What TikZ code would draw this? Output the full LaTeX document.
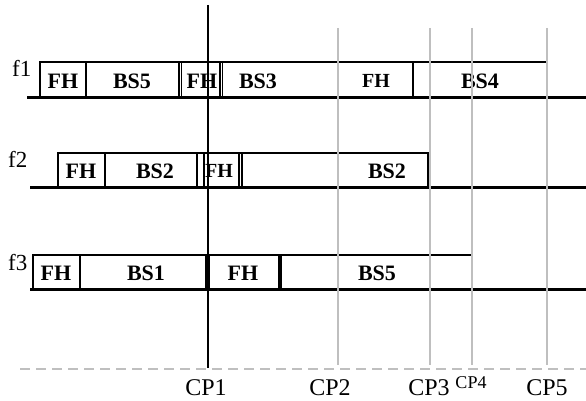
\documentclass[tikz,border=0pt]{standalone}
\usepackage{fontspec}
\setmainfont{Liberation Serif}
\begin{document}
\begin{tikzpicture}[x=1pt,y=-1pt,
  boxline/.style={line width=1.5pt, line cap=rect},
  baseln/.style={line width=3.5pt},
  cpline/.style={line width=2pt, draw=black!25},
  cpmain/.style={line width=1.5pt, draw=black},
  dashln/.style={line width=2pt, draw=black!25, dash pattern=on 10pt off 6pt},
  lbl/.style={inner sep=0pt, font=\fontsize{22}{22}\selectfont\bfseries},
  flbl/.style={inner sep=0pt, anchor=base west, font=\fontsize{23}{23}\selectfont},
  cplbl/.style={inner sep=0pt, anchor=base, font=\fontsize{24}{24}\selectfont}]
\useasboundingbox (0,0) rectangle (586,401);
% row 1
\draw[boxline] (40,97) -- (40,62) -- (547,62);
\foreach \x in {86,179,181.5,220,222.5,413} \draw[boxline] (\x,62) -- (\x,97);
\draw[baseln] (27,97.5) -- (586,97.5);
% row 2
\draw[boxline] (58,187) -- (58,153) -- (428,153) -- (428,187);
\foreach \x in {105,197,204,239,242} \draw[boxline] (\x,153) -- (\x,187);
\draw[baseln] (30,187.5) -- (586,187.5);
% row 3
\draw[boxline] (33,289) -- (33,255) -- (470,255);
\foreach \x in {80,206,209.5,279,281} \draw[boxline] (\x,255) -- (\x,289);
\draw[baseln] (30,289.5) -- (586,289.5);
% texts
\node[lbl] (a1) at (63,81) {FH};
\node[lbl] (a2) at (132,81) {BS5};
\node[lbl] (a3) at (202,81) {FH};
\node[lbl] (a4) at (258,81) {BS3};
\node[lbl, font=\fontsize{20}{20}\selectfont\bfseries] (a5) at (376,81) {FH};
\node[lbl] (a6) at (480,81) {BS4};
\node[lbl] (b1) at (81,171) {FH};
\node[lbl] (b2) at (155,171) {BS2};
\node[lbl, font=\fontsize{20}{20}\selectfont\bfseries] (b3) at (219,171) {FH};
\node[lbl] (b4) at (387,171) {BS2};
\node[lbl] (c1) at (56,273) {FH};
\node[lbl] (c2) at (146,273) {BS1};
\node[lbl] (c3) at (243,273) {FH};
\node[lbl] (c4) at (377,273) {BS5};
\node[flbl] (f1) at (12,77) {f1};
\node[flbl] (f2) at (8,167) {f2};
\node[flbl] (f3) at (8,270) {f3};
% checkpoint lines
\draw[dashln] (20,369) -- (586,369);
\coordinate (t1) at (208,5);   \coordinate (e1) at (208,368);
\coordinate (t2) at (338,28);  \coordinate (e2) at (338,365);
\coordinate (t3) at (430,28);  \coordinate (e3) at (430,365);
\coordinate (t4) at (472,28);  \coordinate (e4) at (472,365);
\coordinate (t5) at (547,28);  \coordinate (e5) at (547,365);
\draw[cpline] (t2) -- (e2);
\draw[cpline] (t3) -- (e3);
\draw[cpline] (t4) -- (e4);
\draw[cpline] (t5) -- (e5);
\draw[cpmain] (t1) -- (e1);
\node[cplbl] (cp1) at (206,395) {CP1};
\node[cplbl] (cp2) at (330,395) {CP2};
\node[cplbl] (cp3) at (429,395) {CP3};
\node[cplbl, font=\fontsize{18}{18}\selectfont] (cp4) at (471,388) {CP4};
\node[cplbl] (cp5) at (547,395) {CP5};
\end{tikzpicture}
\end{document}
